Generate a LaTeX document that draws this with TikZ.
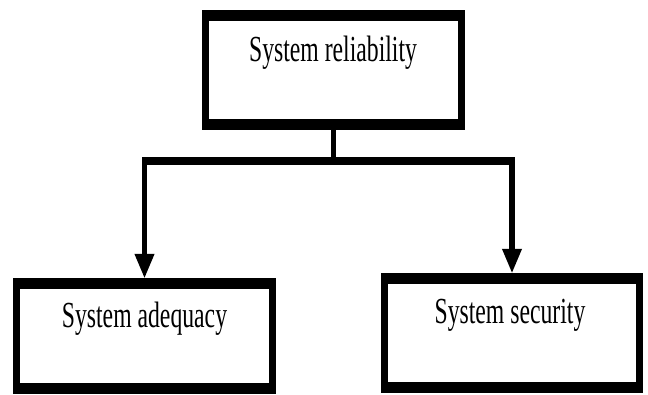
\documentclass[tikz,border=0pt]{standalone}
\usepackage{fontspec}
\setmainfont{Liberation Serif}
\usetikzlibrary{arrows.meta}
\begin{document}
\begin{tikzpicture}[x=1pt,y=1pt,
  box/.style={draw=black, line width=7pt, minimum width=256pt, inner sep=0pt, fill=white},
  lbl/.style={font=\fontsize{23.7}{28}\selectfont, inner sep=0pt, anchor=base},
  conn/.style={line width=5.5pt},
  tip/.style={-{Triangle[length=15.5pt,width=19pt]}}]
\useasboundingbox[fill=white] (0,0) rectangle (648,394);
\begin{scope}[transform canvas={yscale=1.55}]
\node[box, minimum height=70.5pt] (rel) at (333.5,209.0) {};
\node[box, minimum height=67.9pt] (ade) at (144.5,37.4) {};
\node[box, minimum width=255pt, minimum height=70.5pt] (sec) at (512,39.4) {};
\node[lbl] (relt) at (333,214.2) {System reliability};
\node[lbl] (adet) at (144.5,43.2) {System adequacy};
\node[lbl] (sect) at (510,45.8) {System security};
\coordinate (hj) at (333.5,150.3);
\draw[conn] (rel.south) -- (hj);
\draw[conn,tip] (hj) -| (ade.north);
\draw[conn,tip] (hj) -| (sec.north);
\end{scope}
\end{tikzpicture}
\end{document}
